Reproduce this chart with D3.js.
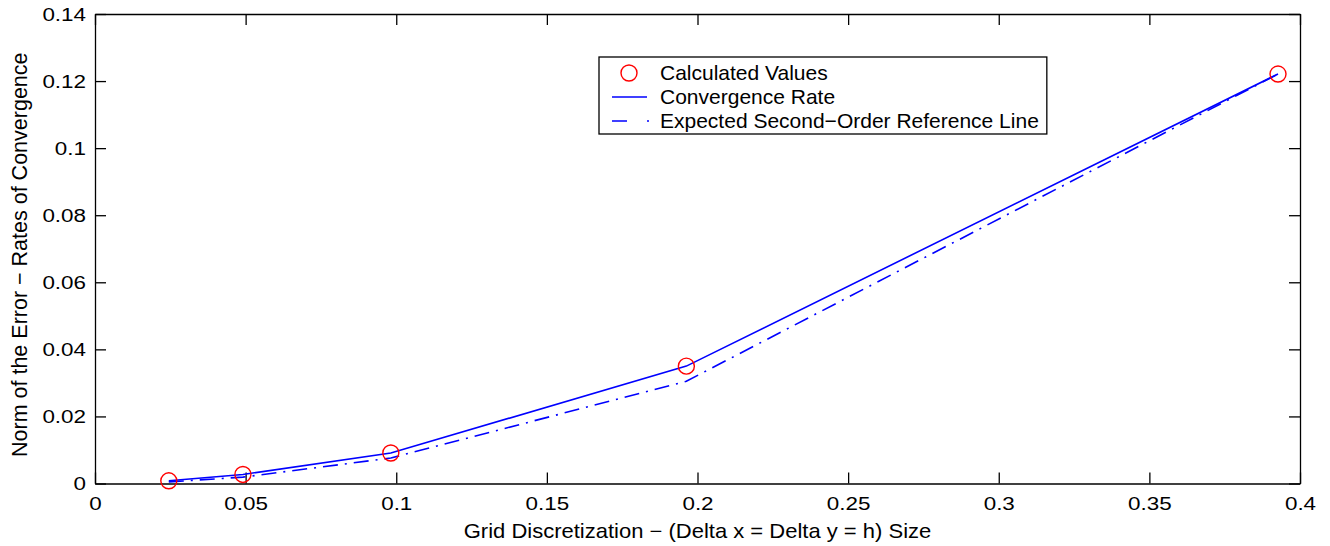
<!DOCTYPE html>
<html>
<head>
<meta charset="utf-8">
<script src="https://cdn.jsdelivr.net/npm/d3@7"></script>
<style>
    body { margin: 0; background: #fff; }
    svg { display: block; font-family: "Liberation Sans", Arial, Helvetica, sans-serif; }
    .axis-text { font-size: 19px; fill: #000; }
    .title-text { font-size: 20px; fill: #000; }
    .legend-text { font-size: 21px; fill: #000; }
</style>
</head>
<body>
<div id="chart"></div>
<script>
// grid sizes h = pi/128 ... pi/8
var gridSizes = [0.0245, 0.0491, 0.0982, 0.1963, 0.3927];
var errorNorms = [0.0008, 0.0027, 0.0091, 0.0350, 0.1221];
var referenceNorms = [0.00048, 0.0019, 0.0076, 0.0305, 0.1221];

var xTicks = [0, 0.05, 0.1, 0.15, 0.2, 0.25, 0.3, 0.35, 0.4];
var xTickLabels = ['0', '0.05', '0.1', '0.15', '0.2', '0.25', '0.3', '0.35', '0.4'];
var yTicks = [0, 0.02, 0.04, 0.06, 0.08, 0.1, 0.12, 0.14];
var yTickLabels = ['0', '0.02', '0.04', '0.06', '0.08', '0.1', '0.12', '0.14'];

var legendLabels = ['Calculated Values', 'Convergence Rate', 'Expected Second\u2212Order Reference Line'];

(function() {
    var options = {
        width: 1330,
        height: 546,
        left: 95,
        right: 1300,
        top: 14,
        bottom: 483.5,
        tickLength: 11,
        labelStretch: 1.18,
        dash: '15,7,2,7'
    };

    var svg = d3.select('#chart').append('svg')
        .attr('width', options.width)
        .attr('height', options.height);

    var x = d3.scaleLinear()
        .domain([0, 0.4])
        .range([options.left, options.right]);

    var y = d3.scaleLinear()
        .domain([0, 0.14])
        .range([options.bottom, options.top]);

    var plotWidth = options.right - options.left;
    var plotHeight = options.bottom - options.top;

    // the original's glyphs are wider than they are tall
    var stretch = function(sel, sx) {
        sel.each(function() {
            var t = d3.select(this);
            var xv = +t.attr('x') || 0;
            t.attr('x', xv / sx).attr('transform', 'scale(' + sx + ',1)');
        });
    };

    var fmtX = function(d, i) { return xTickLabels[i]; };
    var fmtY = function(d, i) { return yTickLabels[i]; };

    var styleAxis = function(g) {
        g.selectAll('.domain').attr('stroke', '#000').attr('stroke-width', 1.3);
        g.selectAll('.tick line').attr('stroke', '#000').attr('stroke-width', 1.3);
        g.selectAll('.tick text')
            .attr('class', 'axis-text')
            .attr('font-size', null)
            .attr('font-family', null)
            .call(stretch, options.labelStretch);
        g.attr('font-size', null).attr('font-family', null);
    };

    // inward ticks on all four sides
    svg.append('g')
        .attr('transform', 'translate(0,' + options.bottom + ')')
        .call(d3.axisBottom(x).tickValues(xTicks).tickFormat(fmtX)
            .tickSizeInner(-options.tickLength).tickSizeOuter(0).tickPadding(13))
        .call(styleAxis);

    svg.append('g')
        .attr('transform', 'translate(0,' + options.top + ')')
        .call(d3.axisTop(x).tickValues(xTicks).tickFormat('')
            .tickSizeInner(-options.tickLength).tickSizeOuter(0))
        .call(styleAxis);

    svg.append('g')
        .attr('transform', 'translate(' + options.left + ',0)')
        .call(d3.axisLeft(y).tickValues(yTicks).tickFormat(fmtY)
            .tickSizeInner(-options.tickLength).tickSizeOuter(0).tickPadding(9))
        .call(styleAxis);

    svg.append('g')
        .attr('transform', 'translate(' + options.right + ',0)')
        .call(d3.axisRight(y).tickValues(yTicks).tickFormat('')
            .tickSizeInner(-options.tickLength).tickSizeOuter(0))
        .call(styleAxis);

    var idx = d3.range(gridSizes.length);

    var line = d3.line()
        .x(function(i) { return x(gridSizes[i]); });

    // second-order reference, dash-dot
    svg.append('path')
        .attr('fill', 'none')
        .attr('stroke', '#0000ff')
        .attr('stroke-width', 1.6)
        .attr('stroke-dasharray', options.dash)
        .attr('d', line.y(function(i) { return y(referenceNorms[i]); })(idx));

    // convergence rate, solid
    svg.append('path')
        .attr('fill', 'none')
        .attr('stroke', '#0000ff')
        .attr('stroke-width', 1.6)
        .attr('d', line.y(function(i) { return y(errorNorms[i]); })(idx));

    svg.selectAll('.point')
        .data(idx)
        .enter().append('circle')
        .attr('class', 'point')
        .attr('cx', function(i) { return x(gridSizes[i]); })
        .attr('cy', function(i) { return y(errorNorms[i]); })
        .attr('r', 8)
        .attr('fill', 'none')
        .attr('stroke', '#ff0000')
        .attr('stroke-width', 1.4);

    // axis titles
    svg.append('text')
        .attr('class', 'title-text')
        .attr('text-anchor', 'middle')
        .attr('x', options.left + plotWidth / 2)
        .attr('y', 538)
        .text('Grid Discretization \u2212 (Delta x = Delta y = h) Size')
        .call(stretch, 1.1);

    svg.append('text')
        .attr('class', 'title-text')
        .attr('style', 'font-size:21.5px')
        .attr('text-anchor', 'middle')
        .attr('transform', 'translate(27,' + (options.top + plotHeight / 2 + 6) + ') rotate(-90)')
        .text('Norm of the Error \u2212 Rates of Convergence');

    // legend
    var legend = svg.append('g').attr('transform', 'translate(599,57)');
    var rowY = [16, 40, 64];

    var box = legend.append('rect')
        .attr('x', 0).attr('y', 0)
        .attr('height', 77)
        .attr('fill', '#fff')
        .attr('stroke', '#000')
        .attr('stroke-width', 1.3);

    legend.append('circle')
        .attr('cx', 30).attr('cy', rowY[0]).attr('r', 8)
        .attr('fill', 'none').attr('stroke', '#ff0000').attr('stroke-width', 1.4);

    legend.append('line')
        .attr('x1', 13).attr('x2', 48).attr('y1', rowY[1]).attr('y2', rowY[1])
        .attr('stroke', '#0000ff').attr('stroke-width', 1.6);

    legend.append('line')
        .attr('x1', 13).attr('x2', 60).attr('y1', rowY[2]).attr('y2', rowY[2])
        .attr('stroke', '#0000ff').attr('stroke-width', 1.6)
        .attr('stroke-dasharray', '15,20,2,100');

    var maxWidth = 0;
    legendLabels.forEach(function(label, i) {
        var t = legend.append('text')
            .attr('class', 'legend-text')
            .attr('x', 61)
            .attr('y', rowY[i] + 7)
            .text(label);
        maxWidth = Math.max(maxWidth, t.node().getComputedTextLength());
    });

    box.attr('width', 61 + maxWidth + 8);
})();
</script>
</body>
</html>
